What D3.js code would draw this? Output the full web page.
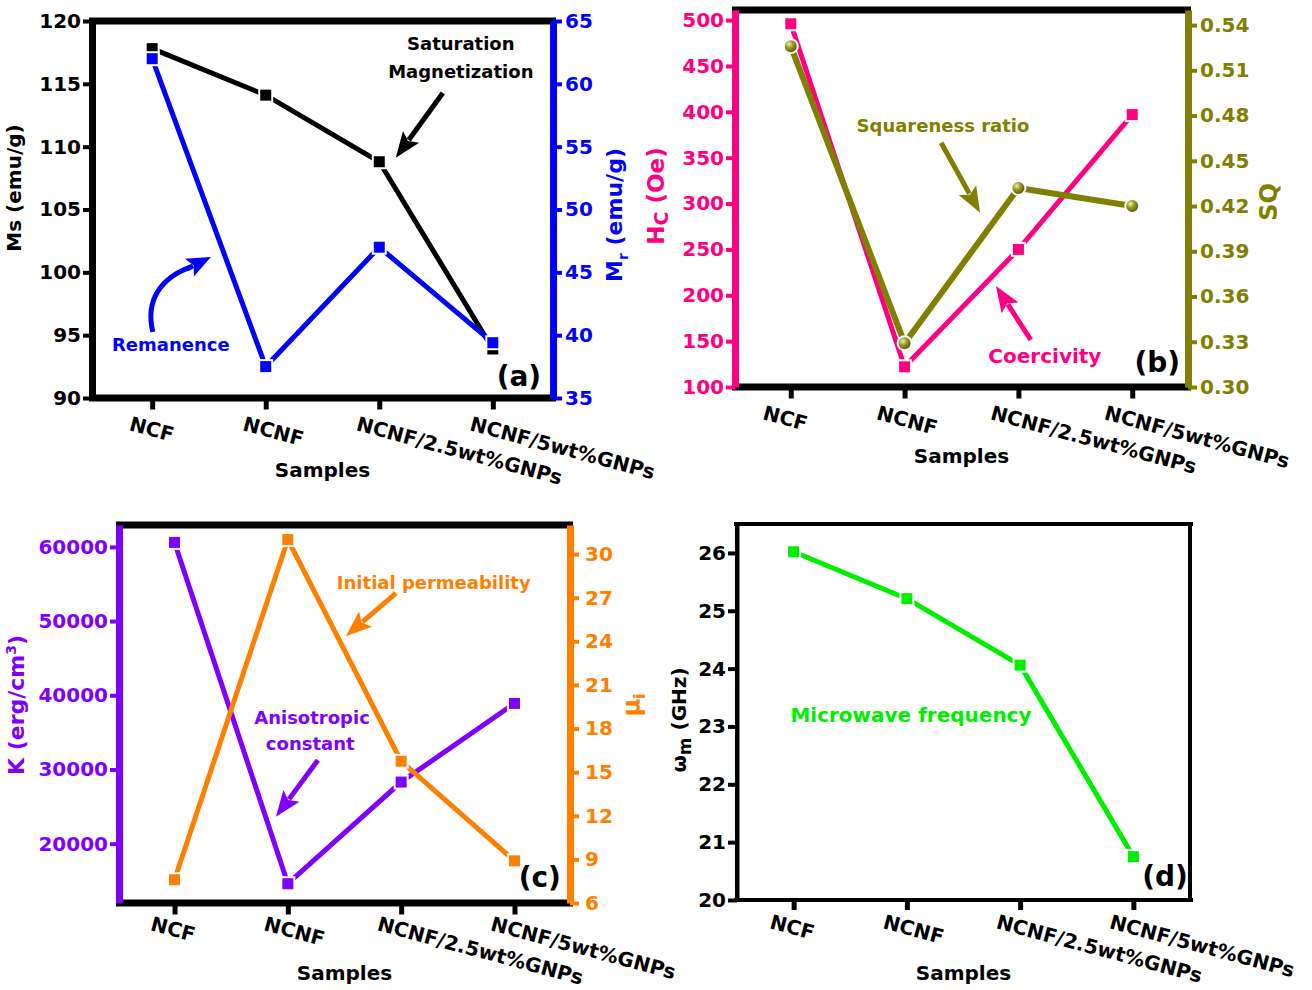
<!DOCTYPE html>
<html><head><meta charset="utf-8">
<script src="https://cdn.jsdelivr.net/npm/d3@7"></script>
<style>
body{margin:0;background:#fff}
svg{display:block}
text{font-family:"DejaVu Sans",sans-serif;font-weight:bold}
</style>
</head><body>
<svg id="chart" width="1312" height="990"></svg>
<script>
// ---------------- data ----------------
const categories = ["NCF", "NCNF", "NCNF/2.5wt%GNPs", "NCNF/5wt%GNPs"];
// (a)
const msValues = [117.8, 114.1, 108.8, 93.9];      // Ms (emu/g)
const mrValues = [62.0, 37.5, 47.0, 39.4];         // Mr (emu/g)
const msTicks = [90, 95, 100, 105, 110, 115, 120];
const mrTicks = [35, 40, 45, 50, 55, 60, 65];
// (b)
const hcValues = [496, 122, 250, 397];             // Hc (Oe)
const sqValues = [0.526, 0.329, 0.432, 0.420];     // SQ
const hcTicks = [100, 150, 200, 250, 300, 350, 400, 450, 500];
const sqTicks = [0.30, 0.33, 0.36, 0.39, 0.42, 0.45, 0.48, 0.51, 0.54];
// (c)
const kValues = [60600, 14600, 28300, 38900];      // K (erg/cm3)
const muValues = [7.6, 31.0, 15.75, 8.9];          // initial permeability
const kTicks = [20000, 30000, 40000, 50000, 60000];
const muTicks = [6, 9, 12, 15, 18, 21, 24, 27, 30];
// (d)
const fmValues = [26.02, 25.21, 24.06, 20.75];     // microwave frequency (GHz)
const fmTicks = [20, 21, 22, 23, 24, 25, 26];

// ---------------- helpers ----------------
const svg = d3.select("#chart");
const defs = svg.append("defs");
const grad = defs.append("radialGradient").attr("id", "ball").attr("cx", "38%").attr("cy", "35%").attr("r", "70%");
grad.append("stop").attr("offset", "0%").attr("stop-color", "#f0f0c0");
grad.append("stop").attr("offset", "40%").attr("stop-color", "#9a9a20");
grad.append("stop").attr("offset", "100%").attr("stop-color", "#4a4a00");

function makePanel(p) {
  const g = svg.append("g");
  const x = d3.scalePoint().domain(categories).range([p.x0, p.x1]).padding(p.pad);
  const fx = f => p.x0 + f * (p.x1 - p.x0);
  const fy = f => p.y0 + f * (p.y1 - p.y0);
  [p.y0, p.y1].forEach(yy => {
    g.append("line").attr("x1", p.x0 - 3).attr("x2", p.x1 + 3).attr("y1", yy).attr("y2", yy)
      .attr("stroke", "#000").attr("stroke-width", p.fw);
  });
  const xa = g.append("g").attr("transform", `translate(0,${p.y1})`)
    .call(d3.axisBottom(x).tickSize(p.fw / 2 + 8).tickSizeOuter(0).tickFormat(""));
  xa.select(".domain").remove();
  xa.selectAll(".tick line").attr("stroke", "#000").attr("stroke-width", 5);
  g.selectAll(".xl").data(categories).join("text").attr("class", "xl")
    .attr("transform", d => `translate(${x(d) - p.lo},${p.y1 + p.ly}) rotate(15)`)
    .attr("font-size", 20).attr("fill", "#000").text(d => d);
  g.append("text").attr("x", fx(0.5)).attr("y", p.y1 + p.sy).attr("text-anchor", "middle")
    .attr("font-size", 20).attr("fill", "#000").text("Samples");
  return { g, x, fx, fy, p };
}

function yAxis(P, scale, side, ticks, color, fmt, width, pad) {
  const ax = (side === "left" ? d3.axisLeft : d3.axisRight)(scale)
    .tickValues(ticks).tickSize(9).tickSizeOuter(0).tickPadding(pad).tickFormat(fmt);
  const xpos = side === "left" ? P.p.x0 : P.p.x1;
  const a = P.g.append("g").attr("transform", `translate(${xpos},0)`).call(ax);
  a.select(".domain").attr("stroke", color).attr("stroke-width", width);
  a.selectAll(".tick line").attr("stroke", color).attr("stroke-width", 4);
  a.selectAll(".tick text").attr("fill", color).attr("font-size", 20);
  return a;
}

function series(P, y, vals, color, marker, lw) {
  const line = d3.line().x((d, i) => P.x(categories[i])).y(d => y(d));
  P.g.append("path").datum(vals).attr("d", line).attr("fill", "none")
    .attr("stroke", color).attr("stroke-width", lw).attr("stroke-linejoin", "miter");
  if (marker === "square") {
    P.g.selectAll(null).data(vals).join("rect")
      .attr("x", (d, i) => P.x(categories[i]) - 6.5).attr("y", d => y(d) - 6.5)
      .attr("width", 13).attr("height", 13).attr("fill", color)
      .attr("stroke", "#fff").attr("stroke-width", 2);
  } else {
    P.g.selectAll(null).data(vals).join("circle")
      .attr("cx", (d, i) => P.x(categories[i])).attr("cy", d => y(d)).attr("r", 7)
      .attr("fill", "url(#ball)").attr("stroke", "#fff").attr("stroke-width", 2);
  }
}

function arrow(g, x1, y1, x2, y2, color, sw, hl, hw) {
  const dx = x2 - x1, dy = y2 - y1, L = Math.hypot(dx, dy), ux = dx / L, uy = dy / L;
  const bx = x2 - ux * hl, by = y2 - uy * hl;
  g.append("line").attr("x1", x1).attr("y1", y1).attr("x2", bx + ux * 4).attr("y2", by + uy * 4)
    .attr("stroke", color).attr("stroke-width", sw);
  const nx = x2 - ux * hl * 0.8, ny = y2 - uy * hl * 0.8;
  const pts = [[x2, y2], [bx - uy * hw / 2, by + ux * hw / 2], [nx, ny], [bx + uy * hw / 2, by - ux * hw / 2]];
  g.append("polygon").attr("points", pts.map(q => q.join(",")).join(" ")).attr("fill", color);
}

function label(g, x, y, txt, color, size, anchor) {
  return g.append("text").attr("x", x).attr("y", y).attr("text-anchor", anchor || "middle")
    .attr("font-size", size).attr("fill", color).text(txt);
}

function yTitle(g, x, y, parts, color, size) {
  const t = g.append("text").attr("transform", `translate(${x},${y}) rotate(-90)`)
    .attr("text-anchor", "middle").attr("font-size", size).attr("fill", color);
  parts.forEach(pt => {
    const s = t.append("tspan").text(pt.t);
    if (pt.dy) s.attr("dy", pt.dy);
    if (pt.fs) s.attr("font-size", pt.fs);
  });
  return t;
}

// ---------------- panel (a) ----------------
{
  const P = makePanel({ x0: 92, x1: 553, y0: 21, y1: 398, pad: 0.53, fw: 7, lo: 24, ly: 32, sy: 79 });
  const yL = d3.scaleLinear().domain([90, 120]).range([P.p.y1, P.p.y0]);
  const yR = d3.scaleLinear().domain([35, 65]).range([P.p.y1, P.p.y0]);
  yAxis(P, yL, "left", msTicks, "#000", d3.format("d"), 7, 2);
  yAxis(P, yR, "right", mrTicks, "#0000ff", d3.format("d"), 7, 3);
  series(P, yL, msValues, "#000", "square", 5);
  series(P, yR, mrValues, "#0000ff", "square", 5);
  const g = P.g;
  label(g, P.fx(0.80), P.fy(0.077), "Saturation", "#000", 18);
  label(g, P.fx(0.80), P.fy(0.151), "Magnetization", "#000", 18);
  arrow(g, P.fx(0.761), P.fy(0.191), P.fx(0.659), P.fy(0.363), "#000", 5, 26, 20);
  label(g, P.fx(0.171), P.fy(0.875), "Remanence", "#0000ff", 18);
  const t0 = [P.fx(0.132), P.fy(0.825)], tip = [P.fx(0.258), P.fy(0.626)];
  const c1 = [P.fx(0.115), P.fy(0.74)], c2 = [P.fx(0.15), P.fy(0.68)], hb = [P.fx(0.215), P.fy(0.652)];
  g.append("path").attr("d", `M${t0}C${c1} ${c2} ${hb}`).attr("fill", "none")
    .attr("stroke", "#0000ff").attr("stroke-width", 5);
  arrow(g, hb[0] - 4, hb[1] + 2, tip[0], tip[1], "#0000ff", 5, 24, 20);
  label(g, P.fx(0.926), P.fy(0.968), "(a)", "#000", 28);
  yTitle(g, 21, 188, [{ t: "Ms (emu/g)" }], "#000", 20);
  yTitle(g, 622, 215, [{ t: "M" }, { t: "r", dy: 6, fs: 14 }, { t: " (emu/g)", dy: -6 }], "#0000ff", 22);
}

// ---------------- panel (b) ----------------
{
  const P = makePanel({ x0: 735, x1: 1188, y0: 10, y1: 387, pad: 0.49, fw: 7, lo: 29, ly: 32, sy: 76 });
  const yL = d3.scaleLinear().domain([100, 511]).range([P.p.y1, P.p.y0]);
  const yR = d3.scaleLinear().domain([0.30, 0.55]).range([P.p.y1, P.p.y0]);
  yAxis(P, yL, "left", hcTicks, "#ff0080", d3.format("d"), 7, 2);
  yAxis(P, yR, "right", sqTicks, "#808000", d3.format(".2f"), 7, 3);
  series(P, yL, hcValues, "#ff0080", "square", 5);
  series(P, yR, sqValues, "#808000", "circle", 6);
  const g = P.g;
  label(g, P.fx(0.459), P.fy(0.324), "Squareness ratio", "#808000", 18);
  arrow(g, P.fx(0.455), P.fy(0.352), P.fx(0.541), P.fy(0.538), "#808000", 5, 26, 20);
  label(g, P.fx(0.684), P.fy(0.936), "Coercivity", "#ff0080", 20);
  arrow(g, P.fx(0.653), P.fy(0.875), P.fx(0.576), P.fy(0.732), "#ff0080", 5, 26, 20);
  label(g, P.fx(0.932), P.fy(0.960), "(b)", "#000", 28);
  yTitle(g, 664, 196, [{ t: "H" }, { t: "C", dy: 4, fs: 19 }, { t: " (Oe)", dy: -4 }], "#ff0080", 23);
  yTitle(g, 1277, 202, [{ t: "SQ" }], "#808000", 24);
}

// ---------------- panel (c) ----------------
{
  const P = makePanel({ x0: 119, x1: 570, y0: 525, y1: 903, pad: 0.49, fw: 7, lo: 25, ly: 27, sy: 77 });
  const yL = d3.scaleLinear().domain([12000, 62950]).range([P.p.y1, P.p.y0]);
  const yR = d3.scaleLinear().domain([6, 32]).range([P.p.y1, P.p.y0]);
  yAxis(P, yL, "left", kTicks, "#8000ff", d3.format("d"), 7, 2);
  yAxis(P, yR, "right", muTicks, "#ff8000", d3.format("d"), 7, 6);
  series(P, yL, kValues, "#8000ff", "square", 5);
  series(P, yR, muValues, "#ff8000", "square", 5);
  const g = P.g;
  label(g, P.fx(0.698), P.fy(0.169), "Initial permeability", "#ff8000", 18);
  arrow(g, P.fx(0.614), P.fy(0.180), P.fx(0.503), P.fy(0.294), "#ff8000", 5, 26, 20);
  label(g, P.fx(0.428), P.fy(0.526), "Anisotropic", "#8000ff", 18);
  label(g, P.fx(0.424), P.fy(0.595), "constant", "#8000ff", 18);
  arrow(g, P.fx(0.441), P.fy(0.622), P.fx(0.348), P.fy(0.772), "#8000ff", 5, 26, 20);
  label(g, P.fx(0.933), P.fy(0.958), "(c)", "#000", 28);
  yTitle(g, 24, 705, [{ t: "K (erg/cm" }, { t: "3", dy: -8, fs: 14 }, { t: ")", dy: 8 }], "#8000ff", 22);
  yTitle(g, 640, 705, [{ t: "μ" }, { t: "i", dy: 5, fs: 16 }], "#ff8000", 24);
}

// ---------------- panel (d) ----------------
{
  const P = makePanel({ x0: 737, x1: 1190, y0: 524, y1: 900, pad: 0.5, fw: 4, lo: 25, ly: 28, sy: 80 });
  [P.p.x0, P.p.x1].forEach(xx => {
    P.g.append("line").attr("x1", xx).attr("x2", xx).attr("y1", P.p.y0 - 2).attr("y2", P.p.y1 + 2)
      .attr("stroke", "#000").attr("stroke-width", 4);
  });
  const yL = d3.scaleLinear().domain([20, 26.5]).range([P.p.y1, P.p.y0]);
  yAxis(P, yL, "left", fmTicks, "#000", d3.format("d"), 4, 2);
  series(P, yL, fmValues, "#00ee00", "square", 5);
  const g = P.g;
  label(g, P.fx(0.384), P.fy(0.527), "Microwave frequency", "#00ee00", 20);
  label(g, P.fx(0.945), P.fy(0.963), "(d)", "#000", 28);
  yTitle(g, 686, 720, [{ t: "ω" }, { t: "m", dy: 5, fs: 17 }, { t: " (GHz)", dy: -5 }], "#000", 20);
}
</script>
</body></html>
